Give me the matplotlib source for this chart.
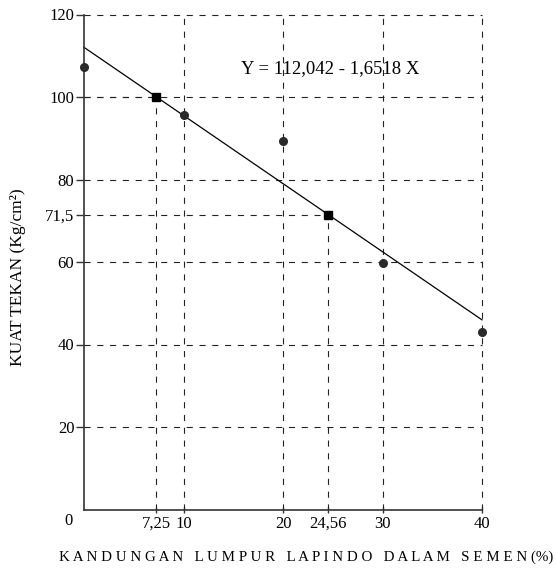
import numpy as np
import matplotlib
matplotlib.use("Agg")
from matplotlib import pyplot as plt

# data
xData = [0, 10, 20, 30, 40]
yData = [107.3, 95.7, 89.3, 59.7, 43.0]
xMark = [7.25, 24.56]
yMark = [100, 71.5]
intercept = 112.042
slope = -1.6518
xTicks = [7.25, 10, 20, 24.56, 30, 40]
xTickLabels = ["7,25", "10", "20", "24,56", "30", "40"]
yTicks = [20, 40, 60, 71.5, 80, 100, 120]
yTickLabels = ["20", "40", "60", "71,5", "80", "100", "120"]

plt.rcParams['font.family'] = ['Liberation Serif', 'DejaVu Serif']

fig = plt.figure(figsize=(5.56, 5.68), dpi=100)
ax = fig.add_axes([84/556, 1 - 509.5/568, 398/556, 495/568])
ax.set_xlim(0, 40)
ax.set_ylim(0, 120)

dash = (0, (5.5, 6))
gridColor = '#222222'
# full-length grid lines
for y in [20, 40, 60, 80, 100, 120]:
    ax.plot([0, 40], [y, y], color=gridColor, lw=0.8, ls=dash, clip_on=False)
for x in [10, 20, 30, 40]:
    ax.plot([x, x], [0, 120], color=gridColor, lw=0.8, ls=dash, clip_on=False)
# partial lines down to the marked points
for x, y in zip(xMark, yMark):
    ax.plot([x, x], [0, y], color=gridColor, lw=0.8, ls=dash)
    ax.plot([0, x], [y, y], color=gridColor, lw=0.8, ls=dash)

# regression line
xl = np.array([0, 40])
ax.plot(xl, intercept + slope * xl, color='black', lw=0.9, clip_on=False)

ax.plot(xData, yData, 'o', color='#2a2a2a', markersize=5.5, clip_on=False, zorder=5)
ax.plot(xMark, yMark, 's', color='black', markersize=5.5, clip_on=False, zorder=5)

ax.text(15.8, 107, "Y = 112,042 - 1,6518 X", fontsize=13.5, va='center', ha='left')

for s in ['top', 'right']:
    ax.spines[s].set_visible(False)
for s in ['left', 'bottom']:
    ax.spines[s].set_color('#333333')
    ax.spines[s].set_linewidth(1.2)

ax.set_xticks(xTicks)
ax.set_xticklabels(xTickLabels)
ax.set_yticks(yTicks)
ax.set_yticklabels(yTickLabels)
ax.tick_params(axis='y', labelsize=12, length=6, width=1, color='#333333', pad=1)
ax.tick_params(axis='x', labelsize=12, length=5, width=1, color='#333333',
               pad=2, direction='inout')
ax.text(-1.6, -2.8, "0", fontsize=12, ha='center', va='center')

fig.text(18/556, 1 - 277/568, "KUAT TEKAN (Kg/cm²)", rotation=90,
         fontsize=12.5, ha='center', va='center')
fig.text(306/556, 1 - 557/568, "K A N D U N G A N   L U M P U R   L A P I N D O   D A L A M   S E M E N (%)",
         fontsize=10.8, ha='center', va='center')

fig.savefig("out.png", dpi=100)
